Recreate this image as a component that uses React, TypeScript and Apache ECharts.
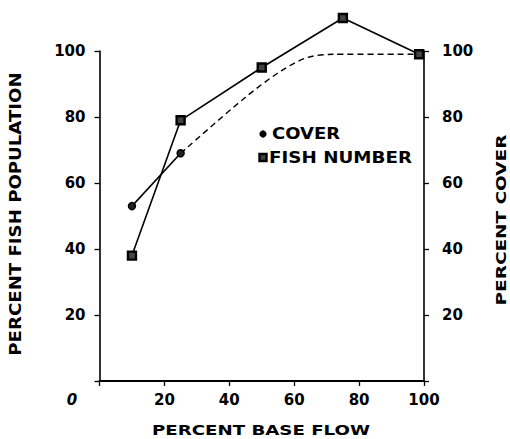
import React, { useEffect, useRef } from 'react';
import * as echarts from 'echarts';

// ---- data ----
const fishNumber: number[][] = [[10, 38], [25, 79], [50, 95], [75, 110], [98.5, 99]];
const coverMeasured: number[][] = [[10, 53], [25, 69]];
const coverCurve: number[][] = [[25, 69], [45, 86], [56, 94], [64, 98], [72, 99], [98.5, 99]];
const xTitle = 'PERCENT BASE FLOW';
const yLeftTitle = 'PERCENT FISH POPULATION';
const yRightTitle = 'PERCENT COVER';
const legendLabels = ['COVER', 'FISH NUMBER'];
const axisMin = 0;
const axisMax = 100;
const axisStep = 20;

const FONT = '"DejaVu Sans", "Liberation Sans", sans-serif';

const labelBase = {
  fontFamily: FONT,
  fontWeight: 'bold' as const,
  fontSize: 15,
  color: '#000',
};

function txt(text: string, x: number, y: number, opts: any = {}) {
  const align = opts.align || 'center';
  return {
    type: 'text',
    x,
    y,
    rotation: opts.rotation || 0,
    scaleX: opts.scaleX || 1,
    z: 100,
    style: {
      text,
      fontFamily: FONT,
      fontWeight: 'bold',
      fontSize: opts.fontSize || 15,
      fill: '#000',
      align,
      verticalAlign: 'middle',
      textAlign: align,
      textVerticalAlign: 'middle',
    },
  };
}

export default function App() {
  const ref = useRef<HTMLDivElement>(null);

  useEffect(() => {
    if (!ref.current) return;
    const chart = echarts.init(ref.current, undefined, { renderer: 'svg' });

    const yAxisCommon = (position: 'left' | 'right', margin: number) => ({
      type: 'value',
      position,
      min: axisMin,
      max: axisMax,
      interval: axisStep,
      splitLine: { show: false },
      axisLine: { show: true, lineStyle: { color: '#000', width: 1.6 } },
      axisTick: { show: true, length: 5, lineStyle: { color: '#000', width: 1.3 } },
      axisLabel: {
        ...labelBase,
        margin,
        showMinLabel: true,
        showMaxLabel: true,
        formatter: (v: number) => (v === 0 ? '' : String(v)),
      },
    });

    chart.setOption({
      animation: false,
      backgroundColor: '#fff',
      grid: { left: 99.5, right: 86, top: 51, bottom: 58, containLabel: false },
      xAxis: {
        type: 'value',
        min: axisMin,
        max: axisMax,
        interval: axisStep,
        splitLine: { show: false },
        axisLine: { show: true, lineStyle: { color: '#000', width: 2 } },
        axisTick: { show: true, length: 5, lineStyle: { color: '#000', width: 1.3 } },
        axisLabel: {
          ...labelBase,
          margin: 11,
          showMinLabel: true,
          showMaxLabel: true,
          formatter: (v: number) => (v === 0 ? '{z|0}' : String(v)),
          rich: {
            z: { ...labelBase, fontStyle: 'italic', padding: [0, 55, 0, 0] },
          },
        },
      },
      yAxis: [yAxisCommon('left', 14), yAxisCommon('right', 18)],
      graphic: [
        txt(xTitle, 261, 430, { scaleX: 1.3, fontSize: 14 }),
        txt(yLeftTitle, 16, 214, { rotation: Math.PI / 2, scaleX: 1.21 }),
        txt(yRightTitle, 501, 220, { rotation: Math.PI / 2, scaleX: 1.32, fontSize: 14 }),
        {
          type: 'circle',
          z: 100,
          shape: { cx: 263, cy: 134, r: 3.6 },
          style: { fill: '#000' },
        },
        {
          type: 'rect',
          z: 100,
          shape: { x: 259.5, y: 154, width: 7, height: 7 },
          style: { fill: '#444', stroke: '#000', lineWidth: 2.4 },
        },
        txt(legendLabels[0], 272, 134, { align: 'left', scaleX: 1.2 }),
        txt(legendLabels[1], 269, 158, { align: 'left', scaleX: 1.22 }),
      ],
      series: [
        {
          name: 'COVER',
          type: 'line',
          yAxisIndex: 1,
          data: coverCurve,
          clip: false,
          smooth: 0.3,
          showSymbol: false,
          symbol: 'none',
          lineStyle: { color: '#000', width: 1.4, type: [6, 4] },
          z: 2,
        },
        {
          name: 'COVER',
          type: 'line',
          yAxisIndex: 1,
          data: coverMeasured,
          clip: false,
          symbol: 'circle',
          symbolSize: 7,
          itemStyle: { color: '#222', borderColor: '#000', borderWidth: 1.5 },
          lineStyle: { color: '#000', width: 1.6 },
          z: 3,
        },
        {
          name: 'FISH NUMBER',
          type: 'line',
          yAxisIndex: 0,
          data: fishNumber,
          clip: false,
          symbol: 'rect',
          symbolSize: 8,
          itemStyle: { color: '#444', borderColor: '#000', borderWidth: 2.4 },
          lineStyle: { color: '#000', width: 1.6 },
          z: 4,
        },
      ],
    });

    return () => chart.dispose();
  }, []);

  return (
    <div
      ref={ref}
      style={{ position: 'fixed', left: 0, top: 0, width: 510, height: 439, background: '#fff' }}
    />
  );
}
